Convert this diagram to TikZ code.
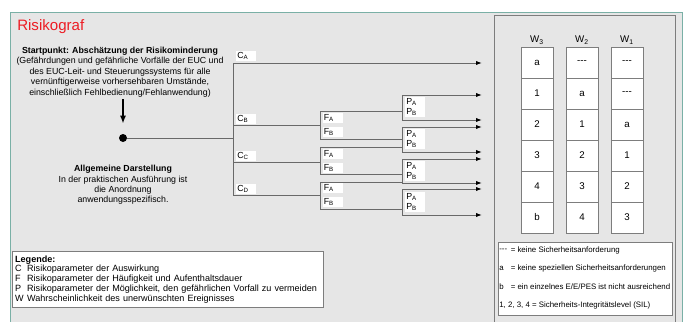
\documentclass[tikz,border=0pt]{standalone}
\usepackage{fontspec}
\setmainfont{Liberation Sans}
\usetikzlibrary{arrows.meta}

\definecolor{frameteal}{RGB}{122,176,166}
\definecolor{bggray}{RGB}{230,230,230}
\definecolor{linegray}{RGB}{105,105,105}
\definecolor{boxgray}{RGB}{125,125,125}
\definecolor{titlered}{RGB}{237,28,36}

\newcommand{\rsub}[2]{#1\textsubscript{#2}}

\begin{document}
\begin{tikzpicture}[x=0.75pt,y=0.75pt,yscale=-1,xscale=1,
  txt/.style={inner sep=0.75pt,font=\fontsize{6.6}{7.8}\selectfont,align=center},
  lbl/.style={fill=white,inner xsep=1pt,inner ysep=0pt,text width=13pt,minimum height=7.5pt,align=left,font=\fontsize{6.6}{7}\selectfont},
  cell/.style={draw=boxgray,fill=white,line width=0.75pt,minimum width=24pt,minimum height=23.25pt,inner sep=0pt,font=\fontsize{7.3}{8}\selectfont},
  head/.style={inner sep=0.75pt,font=\fontsize{7.3}{8}\selectfont},
  branch/.style={draw=linegray,line width=0.75pt},
  outarrow/.style={branch,-{Latex[length=4.5pt,width=3.2pt,color=black]}},
  note/.style={inner sep=0.75pt,anchor=west,font=\fontsize{5.9}{7}\selectfont}
]
\useasboundingbox (0,0) rectangle (687,322);
\clip (0,0) rectangle (687,322);

%Shape: Frame
\fill[bggray] (10,12) rectangle (682,330);
\draw[frameteal,line width=0.75pt] (10,330) -- (10,12) -- (682,12) -- (682,330);
%Shape: Table Box
\draw[boxgray,line width=0.75pt] (494,330) -- (494,15) -- (675,15) -- (675,330);

% Text Node
\node[anchor=west,inner sep=0.75pt,text=titlered,font=\fontsize{11.3}{13}\selectfont] (title) at (16,27) {Risikograf};
% Text Node
\node[txt] (starttxt) at (120,72) {\textbf{Startpunkt: Abschätzung der Risikominderung}\\(Gefährdungen und gefährliche Vorfälle der EUC und\\des EUC-Leit- und Steuerungssystems für alle\\vernünftigerweise vorhersehbaren Umstände,\\einschließlich Fehlbedienung/Fehlanwendung)};
% Text Node
\node[txt] (allg) at (123,185) {\textbf{Allgemeine Darstellung}\\In der praktischen Ausführung ist\\die Anordnung\\anwendungsspezifisch.};

%Shape: Start Dot
\node[circle,fill=black,minimum size=6pt,inner sep=0pt] (start) at (123,138) {};
\coordinate (arrtop) at (123,99);
\draw[line width=1.5pt,-{Latex[length=6pt,width=4.5pt]},shorten >=7.5pt] (arrtop) -- (start);

%Branch Points
\coordinate (junc) at (233,138);
\coordinate (cA) at (233,63);
\coordinate (cB) at (233,125);
\coordinate (cC) at (233,162);
\coordinate (cD) at (233,195);
\coordinate (fB) at (320,125);
\coordinate (fC) at (320,162);
\coordinate (fD) at (320,195);
\coordinate (fB1) at (320,111);
\coordinate (fB2) at (320,139);
\coordinate (fC1) at (320,147);
\coordinate (fC2) at (320,174);
\coordinate (fD1) at (320,182);
\coordinate (fD2) at (320,209);
\coordinate (p1a) at (402,95);
\coordinate (p1b) at (402,120);
\coordinate (p2a) at (402,127);
\coordinate (p2b) at (402,152);
\coordinate (p3a) at (402,159);
\coordinate (p3b) at (402,183);
\coordinate (p4a) at (402,189);
\coordinate (p4b) at (402,215);
\coordinate (outend) at (482,0);

%Straight Lines
\draw[branch] (start) -- (junc);
\draw[branch] (cA) -- (cD);
\draw[outarrow] (cA) -- (cA -| outend);
\draw[branch] (cB) -- (fB);
\draw[branch] (cC) -- (fC);
\draw[branch] (cD) -- (fD);
\draw[branch] (fB1) -- (fB2);
\draw[branch] (fC1) -- (fC2);
\draw[branch] (fD1) -- (fD2);
\draw[branch] (fB1) -- (fB1 -| p1a);
\draw[branch] (fB2) -- (fB2 -| p1a);
\draw[branch] (fC1) -- (fC1 -| p1a);
\draw[branch] (fC2) -- (fC2 -| p1a);
\draw[branch] (fD1) -- (fD1 -| p1a);
\draw[branch] (fD2) -- (fD2 -| p1a);
\draw[branch] (p1a) -- (p1b);
\draw[branch] (p2a) -- (p2b);
\draw[branch] (p3a) -- (p3b);
\draw[branch] (p4a) -- (p4b);
\draw[outarrow] (p1a) -- (p1a -| outend);
\draw[outarrow] (p1b) -- (p1b -| outend);
\draw[outarrow] (p2a) -- (p2a -| outend);
\draw[outarrow] (p2b) -- (p2b -| outend);
\draw[outarrow] (p3a) -- (p3a -| outend);
\draw[outarrow] (p3b) -- (p3b -| outend);
\draw[outarrow] (p4a) -- (p4a -| outend);
\draw[outarrow] (p4b) -- (p4b -| outend);

% Labels C
\node[lbl] (lCA) at (246,56) {\rsub{C}{A}};
\node[lbl] (lCB) at (246,119) {\rsub{C}{B}};
\node[lbl] (lCC) at (246,156) {\rsub{C}{C}};
\node[lbl] (lCD) at (246,189) {\rsub{C}{D}};
% Labels F
\node[lbl] (lFB1) at (332.5,118) {\rsub{F}{A}};
\node[lbl] (lFB2) at (332.5,132) {\rsub{F}{B}};
\node[lbl] (lFC1) at (332.5,154) {\rsub{F}{A}};
\node[lbl] (lFC2) at (332.5,168) {\rsub{F}{B}};
\node[lbl] (lFD1) at (332.5,188) {\rsub{F}{A}};
\node[lbl] (lFD2) at (332.5,202) {\rsub{F}{B}};
% Labels P
\node[lbl] (lP1a) at (415,102) {\rsub{P}{A}};
\node[lbl] (lP1b) at (415,112) {\rsub{P}{B}};
\node[lbl] (lP2a) at (415,134) {\rsub{P}{A}};
\node[lbl] (lP2b) at (415,144) {\rsub{P}{B}};
\node[lbl] (lP3a) at (415,166) {\rsub{P}{A}};
\node[lbl] (lP3b) at (415,176) {\rsub{P}{B}};
\node[lbl] (lP4a) at (415,197) {\rsub{P}{A}};
\node[lbl] (lP4b) at (415,207) {\rsub{P}{B}};

% Text Node
\node[head] (hW3) at (537,40) {\rsub{W}{3}};
\node[head] (hW2) at (582,40) {\rsub{W}{2}};
\node[head] (hW1) at (627,40) {\rsub{W}{1}};

%Table W3
\node[cell] (w3r1) at (537,62.5) {a};
\node[cell] (w3r2) at (537,93.5) {1};
\node[cell] (w3r3) at (537,124.5) {2};
\node[cell] (w3r4) at (537,155.5) {3};
\node[cell] (w3r5) at (537,186.5) {4};
\node[cell] (w3r6) at (537,217.5) {b};
%Table W2
\node[cell] (w2r1) at (582,62.5) {-{}-{}-};
\node[cell] (w2r2) at (582,93.5) {a};
\node[cell] (w2r3) at (582,124.5) {1};
\node[cell] (w2r4) at (582,155.5) {2};
\node[cell] (w2r5) at (582,186.5) {3};
\node[cell] (w2r6) at (582,217.5) {4};
%Table W1
\node[cell] (w1r1) at (627,62.5) {-{}-{}-};
\node[cell] (w1r2) at (627,93.5) {-{}-{}-};
\node[cell] (w1r3) at (627,124.5) {a};
\node[cell] (w1r4) at (627,155.5) {1};
\node[cell] (w1r5) at (627,186.5) {2};
\node[cell] (w1r6) at (627,217.5) {3};

%Shape: Right Legend
\node[draw=boxgray,fill=white,line width=0.75pt,minimum width=130.5pt,minimum height=54.75pt,inner sep=0pt] (rlegend) at (585,278.5) {};
\node[note] (sym1) at (498,250) {-{}-{}-};
\node[note] (def1) at (509.5,250) {= keine Sicherheitsanforderung};
\node[note] (sym2) at (498,268) {a};
\node[note] (def2) at (509.5,268) {= keine speziellen Sicherheitsanforderungen};
\node[note] (sym3) at (498,287) {b};
\node[note] (def3) at (509.5,287) {= ein einzelnes E/E/PES ist nicht ausreichend};
\node[note] (def4) at (498,305) {1, 2, 3, 4 = Sicherheits-Integritätslevel (SIL)};

%Shape: Left Legend
\node[draw=boxgray,fill=white,line width=0.75pt,anchor=north west,minimum height=42pt,text width=229pt,inner xsep=2pt,inner ysep=1pt,align=left,font=\fontsize{6.8}{7.4}\selectfont] (legende) at (12,251) {\textbf{Legende:}\\\makebox[9pt][l]{C}Risikoparameter der Auswirkung\\\makebox[9pt][l]{F}Risikoparameter der Häufigkeit und Aufenthaltsdauer\\\makebox[9pt][l]{P}Risikoparameter der Möglichkeit, den gefährlichen Vorfall zu vermeiden\\\makebox[9pt][l]{W}Wahrscheinlichkeit des unerwünschten Ereignisses};

\end{tikzpicture}
\end{document}
